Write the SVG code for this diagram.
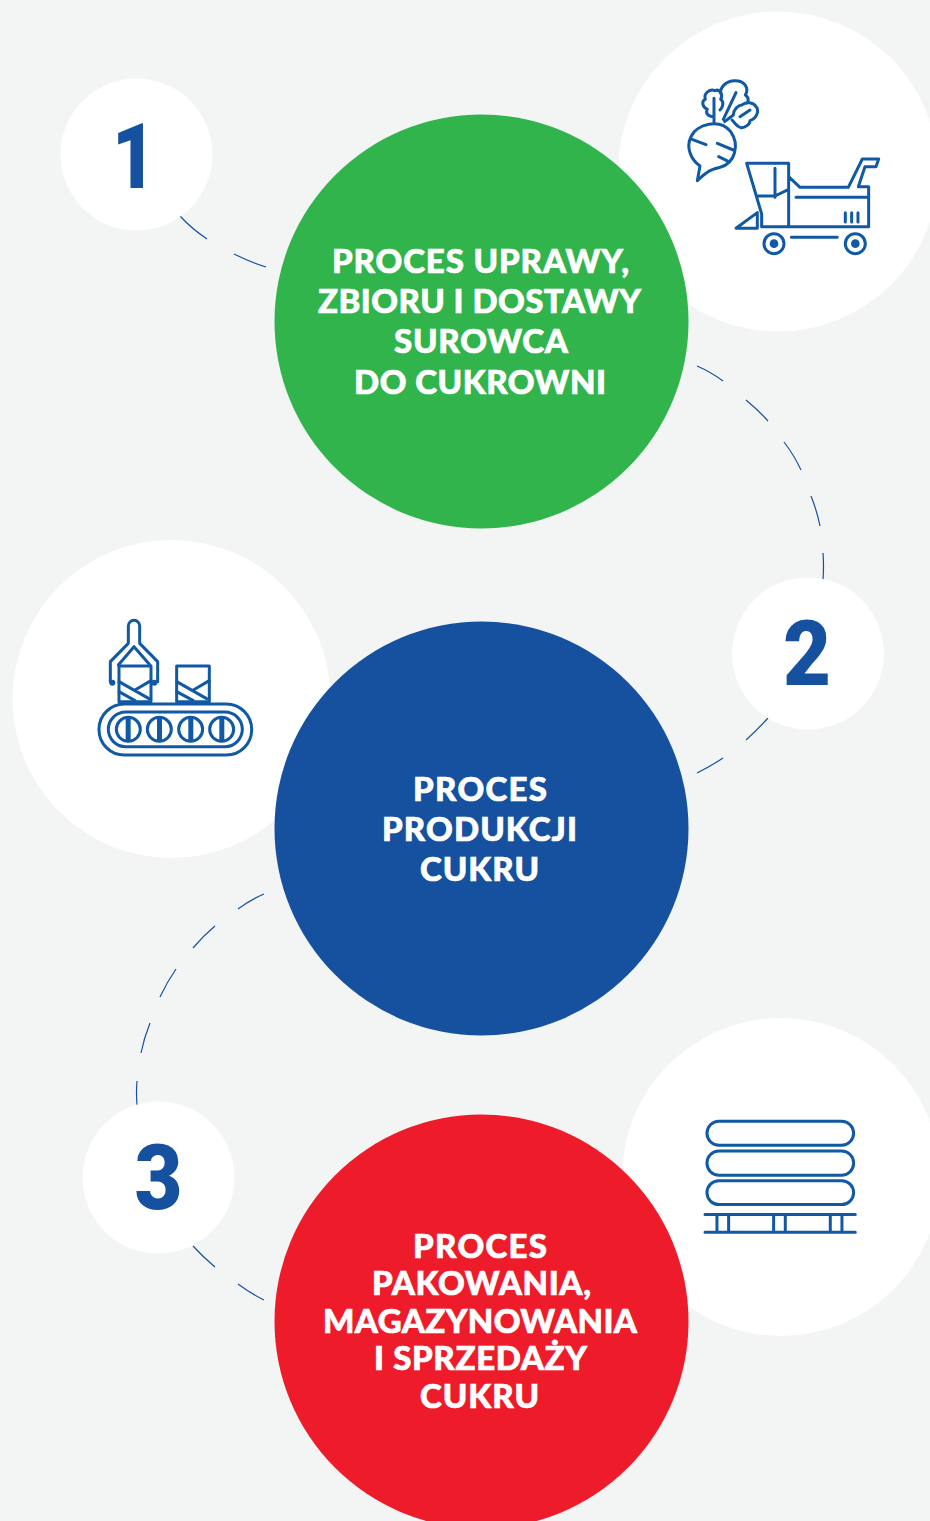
<svg xmlns="http://www.w3.org/2000/svg" width="930" height="1521" viewBox="0 0 930 1521">
<style>
.w{fill:#fff}
.t{font-family:Lato,"Liberation Sans",sans-serif;font-weight:900;font-size:33px;fill:#fff;stroke:#fff;stroke-width:.7}
.n{font-family:Roboto,"Liberation Sans",sans-serif;font-weight:900;font-size:91px;fill:#16519f}
.d{fill:none;stroke:#16519f;stroke-width:1.2}
.i{fill:none;stroke:#1159a5;stroke-width:9;stroke-linecap:round;stroke-linejoin:round}
.p{fill:#1159a5}
</style>
<rect width="930" height="1521" fill="#f3f4f4"/>
<g id="connectors">
<path class="d" d="M180 216Q192 229 207 239M234 254Q250 262 266 267"/>
<path class="d" d="M697 366Q711 372 723 381M746 400Q758 410 768 421M784 442Q794 455 801 470M811 496Q817 511 820 526M823 553Q824 566 823 580M768 718Q758 729 746 740M723 758Q711 766 697 773"/>
<path class="d" d="M264 894Q250 900 238 909M215 926Q203 936 193 948M176 969Q167 982 160 997M150 1023Q144 1038 141 1053M137 1081Q136 1093 137 1105M193 1246Q203 1257 215 1267M238 1284Q250 1293 264 1300"/>
</g>
<g id="photo-1"><circle class="w" cx="778" cy="171.500" r="160"/>
<g transform="translate(670 60) scale(.3333)">
<path class="i" d="M82 362L90 318C62 298 48 262 62 232C80 190 150 175 182 215C210 255 195 310 150 322C125 328 115 330 82 362ZM66 238L108 254M142 250L190 270M146 290L175 304"/>
<path class="i" d="M132 185V115M132 170C115 170 105 160 112 148C95 140 95 122 106 118C100 100 120 85 135 92C150 85 160 105 152 118C162 125 160 140 150 150"/>
<path class="i" d="M160 178L198 98M152 100C150 85 165 62 195 62C225 62 238 85 226 105C240 115 235 130 225 130M186 180C196 190 200 200 212 203C225 205 240 192 240 182C262 175 268 150 258 140C250 125 228 125 215 135C205 135 190 150 190 165L164 185M210 170L240 150"/>
<path class="i" d="M230 310H356V500M230 310L275 462V500H596V380H565L585 320H618L626 297H577L535 382H390L356 350M315 325V412M262 408H315L356 388M378 412H596M198 505L262 458V505ZM364 532H502M526 458V486M545 458V486M564 458V486"/>
<circle class="i" cx="312" cy="551" r="30"/><circle class="i" cx="556" cy="551" r="30"/>
<circle class="p" cx="312" cy="551" r="13"/><circle class="p" cx="556" cy="551" r="13"/>
</g></g>
<g id="photo-2"><circle class="w" cx="171.500" cy="699" r="159"/>
<g transform="translate(85 610) scale(.3333)">
<rect class="i" x="42" y="282" width="458" height="153" rx="76"/>
<rect class="i" x="70" y="306" width="402" height="104" rx="52"/>
<circle class="i" cx="130" cy="358" r="36"/><circle class="i" cx="223" cy="358" r="36"/><circle class="i" cx="317" cy="358" r="36"/><circle class="i" cx="410" cy="358" r="36"/>
<path class="p" d="M122 322h15v72h-15zM216 322h15v72h-15zM310 322h15v72h-15zM403 322h15v72h-15z"/>
<rect class="i" x="102" y="168" width="96" height="107"/><rect class="i" x="275" y="168" width="98" height="107"/>
<path class="i" d="M102 215L192 266M102 245L150 272M198 212L150 240M275 215L365 266M275 245L325 272M373 212L325 240"/>
<path class="i" d="M130 100V48A17 17 0 0 1 164 48V100L218 155V215M130 100L76 155V215M147 110L100 165M147 110L195 165"/>
<circle class="p" cx="82" cy="218" r="9"/><circle class="p" cx="208" cy="218" r="9"/>
</g></g>
<g id="photo-3"><circle class="w" cx="781" cy="1177" r="159"/>
<g transform="translate(690.300 1105.300) scale(.3333)">
<rect class="i" x="50" y="48" width="440" height="72" rx="36"/><rect class="i" x="50" y="137" width="440" height="73" rx="36"/><rect class="i" x="50" y="226" width="440" height="72" rx="36"/>
<path class="i" d="M44 328H495M44 381H495M80 328V381M115 328V381M250 328V381M285 328V381M420 328V381M455 328V381"/>
</g></g>
<g id="step-1"><circle class="w" cx="136.500" cy="154.500" r="76"/><text class="n" x="112" y="187.500" textLength="44" lengthAdjust="spacingAndGlyphs">1</text></g>
<g id="step-2"><circle class="w" cx="808" cy="653.500" r="76"/><text class="n" x="783" y="684.500" textLength="48" lengthAdjust="spacingAndGlyphs">2</text></g>
<g id="step-3"><circle class="w" cx="158.500" cy="1177.500" r="76"/><text class="n" x="134.500" y="1208.500" textLength="48" lengthAdjust="spacingAndGlyphs">3</text></g>
<g id="process-1"><circle cx="481.500" cy="321.500" r="207" fill="#31b44b"/>
<text class="t" x="332" y="273" textLength="297">PROCES UPRAWY,</text>
<text class="t" x="318" y="313" textLength="323">ZBIORU I DOSTAWY</text>
<text class="t" x="394" y="353" textLength="174">SUROWCA</text>
<text class="t" x="354" y="394" textLength="252">DO CUKROWNI</text></g>
<g id="process-2"><circle cx="481.500" cy="828.500" r="207" fill="#16519f"/>
<text class="t" x="413" y="801" textLength="134">PROCES</text>
<text class="t" x="382" y="841" textLength="195">PRODUKCJI</text>
<text class="t" x="420" y="881" textLength="119">CUKRU</text></g>
<g id="process-3"><circle cx="481.500" cy="1321.500" r="207" fill="#ee1c2a"/>
<text class="t" x="413" y="1258" textLength="134">PROCES</text>
<text class="t" x="372" y="1295" textLength="219">PAKOWANIA,</text>
<text class="t" x="323" y="1333" textLength="314">MAGAZYNOWANIA</text>
<text class="t" x="374" y="1370" textLength="213">I SPRZEDAŻY</text>
<text class="t" x="420" y="1408" textLength="119">CUKRU</text></g>
</svg>
